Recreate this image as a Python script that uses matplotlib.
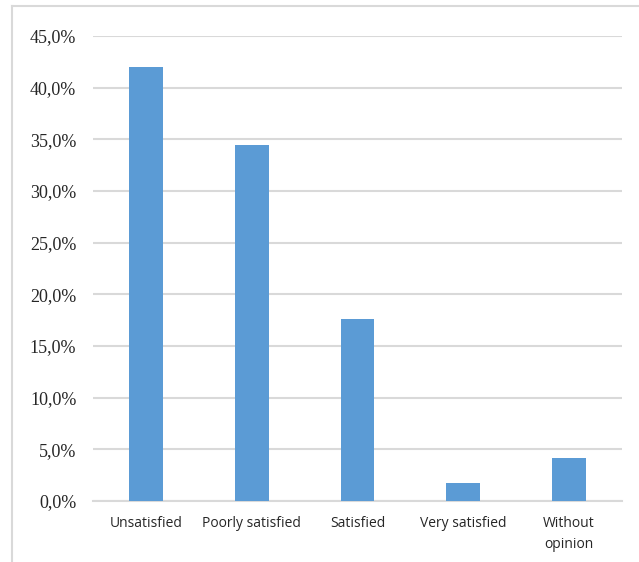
import matplotlib.pyplot as plt
from matplotlib.font_manager import FontProperties
from matplotlib.lines import Line2D
from matplotlib.ticker import FuncFormatter, MultipleLocator

plt.rcParams["font.family"] = ["Liberation Serif", "DejaVu Serif"]
plt.rcParams["ytick.labelsize"] = 13

# satisfaction survey results (% of respondents)
categories = ["Unsatisfied", "Poorly satisfied", "Satisfied", "Very satisfied", "Without\nopinion"]
shares = [42.0, 34.5, 17.6, 1.7, 4.2]

bar_color = "#5b9bd5"
grid_color = "#d9d9d9"

fig = plt.figure(figsize=(6.39, 5.62), dpi=100)
ax = fig.add_axes([93 / 639, 1 - 501 / 562, 529 / 639, 465 / 562])

x = range(len(categories))
ax.bar(x, shares, width=0.32, color=bar_color, zorder=3)

ax.set_xlim(-0.5, len(categories) - 0.5)
ax.set_ylim(0, 45)
ax.yaxis.set_major_locator(MultipleLocator(5))
ax.yaxis.set_major_formatter(FuncFormatter(lambda v, _: f"{v:.1f}%".replace(".", ",")))
ax.grid(axis="y", color=grid_color, linewidth=1.5, zorder=0)
ax.set_axisbelow(True)

for side in ["top", "right", "left"]:
    ax.spines[side].set_visible(False)
ax.spines["bottom"].set_color(grid_color)
ax.spines["bottom"].set_linewidth(1.5)

ax.set_xticks(list(x))
ax.set_xticklabels(categories)
ax.tick_params(axis="x", length=0, pad=11, labelcolor="#262626")
ax.tick_params(axis="y", length=0, pad=12, labelcolor="#262626")

fig.canvas.draw()
for lbl in ax.get_xticklabels():
    lbl.set_fontproperties(FontProperties(family="Open Sans", size=10))
    lbl.set_linespacing(1.5)
for lbl in ax.get_yticklabels():
    lbl.set_fontproperties(FontProperties(family="Liberation Serif", size=13))

# chart frame (top and left edges)
fig.add_artist(Line2D([12 / 639, 12 / 639], [0, 1 - 6 / 562], transform=fig.transFigure,
                      color=grid_color, linewidth=1.5))
fig.add_artist(Line2D([12 / 639, 1], [1 - 6 / 562, 1 - 6 / 562], transform=fig.transFigure,
                      color=grid_color, linewidth=1.5))

fig.savefig("out.png", dpi=100)
